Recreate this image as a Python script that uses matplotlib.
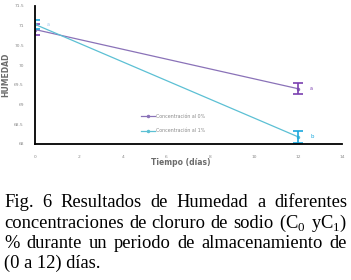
import matplotlib.pyplot as plt

# Datos
dias = [0, 12]
humedad_c0 = [70.90, 69.40]
error_c0 = [0.14, 0.14]
humedad_c1 = [71.03, 68.18]
error_c1 = [0.12, 0.16]
letras_c0 = ["", "a"]
letras_c1 = ["a", "b"]
series = ["Concentración al 0%", "Concentración al 1%"]
xticks = [0, 2, 4, 6, 8, 10, 12, 14]
yticks = [68, 68.5, 69, 69.5, 70, 70.5, 71, 71.5]

caption = [
    "Fig. 6 Resultados de Humedad a diferentes",
    "concentraciones de cloruro de sodio (C$_0$ yC$_1$)",
    "% durante un periodo de almacenamiento de",
    "(0 a 12) días.",
]

plt.rcParams['mathtext.fontset'] = 'custom'
plt.rcParams['mathtext.rm'] = 'Liberation Serif'

fig = plt.figure(figsize=(3.51, 2.80), dpi=100)
ax = fig.add_axes([0.100, 0.486, 0.874, 0.493])

col0, err0 = '#8a72b8', '#7a3fb0'
col1, err1 = '#5cc0d4', '#1aa8de'

ax.plot(dias, humedad_c0, color=col0, lw=0.9, marker='o', ms=1.5, label=series[0])
ax.errorbar(dias, humedad_c0, yerr=error_c0, fmt='none', ecolor=err0,
            elinewidth=1.2, capsize=3.5, capthick=1.2)
ax.plot(dias, humedad_c1, color=col1, lw=0.9, marker='o', ms=1.5, label=series[1])
ax.errorbar(dias, humedad_c1, yerr=error_c1, fmt='none', ecolor=err1,
            elinewidth=1.2, capsize=3.5, capthick=1.2)

for x, y, t in zip(dias, humedad_c0, letras_c0):
    ax.text(x + 0.55, y, t, color=err0, fontsize=3.5, va='center')
for x, y, t in zip(dias, humedad_c1, letras_c1):
    ax.text(x + 0.55, y, t, color='#9fc8f0' if x == 0 else err1, fontsize=4 if x else 3.5, va='center')

ax.set_xlim(0, 14)
ax.set_ylim(68, 71.5)
ax.set_xticks(xticks)
ax.set_yticks(yticks)
ax.set_yticklabels([f"{v:g}" for v in yticks])
ax.tick_params(length=0, labelsize=3.2, labelcolor='#8a8a8a', pad=8)
for s in ['top', 'right']:
    ax.spines[s].set_visible(False)
for s in ['left', 'bottom']:
    ax.spines[s].set_linewidth(1.3)
    ax.spines[s].set_color('black')

ax.set_xlabel("Tiempo (días)", fontsize=5.5, fontweight='bold', color='#6b6b6b')
ax.xaxis.set_label_coords(0.475, -0.105)
ax.set_ylabel("HUMEDAD", fontsize=5.5, fontweight='bold', color='#6b6b6b', labelpad=3)

ax.legend(loc='lower left', bbox_to_anchor=(0.33, 0.045), fontsize=3.4, frameon=False,
          labelcolor='#8a8a8a', handlelength=3, labelspacing=2.0, handletextpad=0.2)

# Pie de figura justificado
fig.canvas.draw()
rend = fig.canvas.get_renderer()
x0, x1 = 4, 347
W, H = fig.bbox.width, fig.bbox.height
baselines = [207, 227.5, 248, 268]
fs = 13.3
for i, (line, yb) in enumerate(zip(caption, baselines)):
    words = line.split(" ")
    y = 1 - yb / H
    if i == len(caption) - 1:
        fig.text(x0 / W, y, line, fontsize=fs, family='Liberation Serif', va='baseline')
        continue
    txts = [fig.text(0, y, w, fontsize=fs, family='Liberation Serif', va='baseline') for w in words]
    widths = [t.get_window_extent(rend).width for t in txts]
    gap = (x1 - x0 - sum(widths)) / (len(words) - 1)
    xp = x0
    for t, w in zip(txts, widths):
        t.set_x(xp / W)
        xp += w + gap

fig.savefig("out.png", dpi=100)
